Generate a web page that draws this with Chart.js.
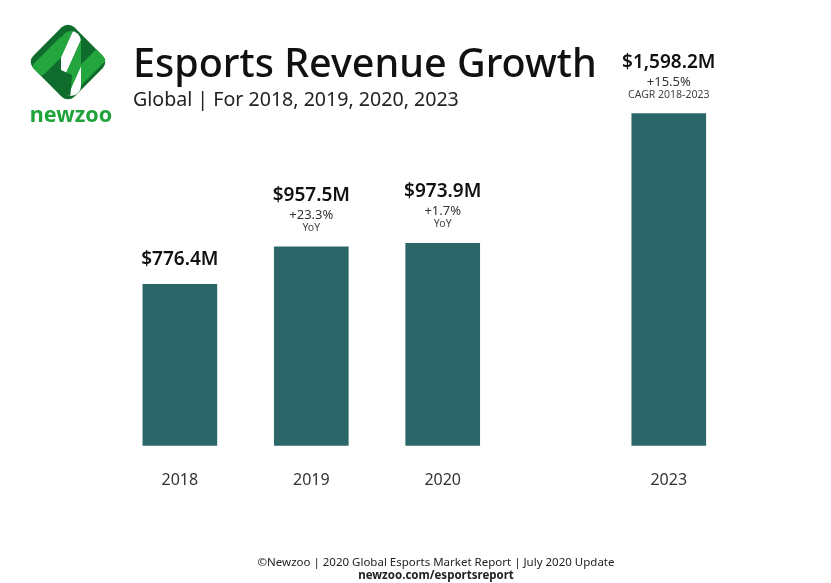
<!DOCTYPE html>
<html>
<head>
<meta charset="utf-8">
<script src="https://cdn.jsdelivr.net/npm/chart.js@4.4.1/dist/chart.umd.min.js"></script>
<style>
  html, body { margin: 0; padding: 0; background: #ffffff; }
  #wrap { width: 831px; height: 583px; position: relative; }
</style>
</head>
<body>
<div id="wrap"><canvas id="c" width="831" height="583"></canvas></div>
<script>
// ---- data ----
const categories = ['2018', '2019', '2020', '2023'];
const revenue = [776.4, 957.5, 973.9, 1598.2];
const valueLabels = ['$776.4M', '$957.5M', '$973.9M', '$1,598.2M'];
const growthLabels = ['', '+23.3%', '+1.7%', '+15.5%'];
const growthBasis = ['', 'YoY', 'YoY', 'CAGR 2018-2023'];

// ---- layout (axis slot for each category; 2023 sits after a compressed gap) ----
const axisSlots = [0, 1, 2, 3.72];
const FONT = '"Noto Sans", "Open Sans", sans-serif';
const BAR = '#2b6768';
const LIGHT = '#23a63d';
const DARK = '#0f6c2d';

function drawLogo(ctx) {
  const cx = 68, cy = 62;
  ctx.save();
  ctx.save();
  ctx.translate(cx, cy);
  ctx.rotate(Math.PI / 4);
  ctx.beginPath();
  ctx.roundRect(-29, -29, 58, 58, 9);
  ctx.restore();
  ctx.fillStyle = DARK;
  ctx.fill();
  ctx.clip();
  // diagonal bright bands
  ctx.strokeStyle = LIGHT;
  ctx.lineCap = 'round';
  ctx.lineWidth = 15;
  ctx.beginPath(); ctx.moveTo(40, 68); ctx.lineTo(64, 44); ctx.stroke();
  ctx.beginPath(); ctx.moveTo(76, 80); ctx.lineTo(102, 54); ctx.stroke();
  // central capsule with diagonal stripes
  ctx.beginPath(); ctx.roundRect(61, 31, 20, 65, 10); ctx.clip();
  const band = (u0, u1, color) => {
    // u = (x - 61) + 0.45 * (y - 31)
    ctx.fillStyle = color;
    ctx.beginPath();
    ctx.moveTo(61 + u0 + 0.45 * 10, 21);
    ctx.lineTo(61 + u1 + 0.45 * 10, 21);
    ctx.lineTo(61 + u1 - 0.45 * 80, 111);
    ctx.lineTo(61 + u0 - 0.45 * 80, 111);
    ctx.closePath();
    ctx.fill();
  };
  band(-60, 12, LIGHT);
  band(12, 24, '#ffffff');
  band(24, 36, LIGHT);
  band(36, 90, '#ffffff');
  ctx.fillStyle = DARK;
  ctx.beginPath();
  ctx.moveTo(59, 69); ctx.lineTo(72, 75); ctx.lineTo(70, 100); ctx.lineTo(59, 100); ctx.closePath();
  ctx.fill();
  ctx.restore();
}

const headerPlugin = {
  id: 'header',
  afterDraw(chart) {
    const ctx = chart.ctx;
    drawLogo(ctx);
    ctx.save();
    ctx.fillStyle = '#1fa33a';
    ctx.font = '700 21.5px ' + FONT;
    ctx.textAlign = 'center';
    ctx.textBaseline = 'alphabetic';
    ctx.fillText('newzoo', 71, 122);

    // title
    ctx.textAlign = 'left';
    ctx.fillStyle = '#111111';
    ctx.font = '500 39.5px ' + FONT;
    ctx.fillText('Esports Revenue Growth', 133, 77);
    ctx.fillStyle = '#222222';
    ctx.font = '400 19.6px ' + FONT;
    ctx.fillText('Global | For 2018, 2019, 2020, 2023', 133, 106);

    // footer
    ctx.textAlign = 'center';
    ctx.fillStyle = '#222222';
    ctx.font = '400 11.5px ' + FONT;
    ctx.fillText('\u00A9Newzoo | 2020 Global Esports Market Report | July 2020 Update', 436, 566);
    ctx.font = '700 11.5px ' + FONT;
    ctx.fillText('newzoo.com/esportsreport', 436, 579);
    ctx.restore();
  }
};

const barLabelPlugin = {
  id: 'barLabels',
  afterDatasetsDraw(chart) {
    const ctx = chart.ctx;
    const meta = chart.getDatasetMeta(0);
    ctx.save();
    ctx.textAlign = 'center';
    ctx.textBaseline = 'alphabetic';
    meta.data.forEach((bar, i) => {
      const x = bar.x, top = bar.y;
      ctx.fillStyle = '#111111';
      ctx.font = '600 19px ' + FONT;
      if (growthLabels[i]) {
        ctx.fillText(valueLabels[i], x, top - 46);
        ctx.fillStyle = '#333333';
        ctx.font = '400 13px ' + FONT;
        ctx.fillText(growthLabels[i], x, top - 28);
        ctx.fillStyle = '#444444';
        ctx.font = '400 10.5px ' + FONT;
        ctx.fillText(growthBasis[i], x, top - 16);
      } else {
        ctx.fillText(valueLabels[i], x, top - 19);
      }
    });
    ctx.restore();
  }
};

new Chart(document.getElementById('c'), {
  type: 'bar',
  data: {
    datasets: [{
      data: revenue.map((v, i) => ({ x: axisSlots[i], y: v })),
      backgroundColor: BAR,
      borderWidth: 0,
      barThickness: 74
    }]
  },
  options: {
    responsive: false,
    animation: false,
    events: [],
    layout: { padding: { left: 101, right: 86, top: 30, bottom: 68 } },
    plugins: { legend: { display: false }, tooltip: { enabled: false } },
    scales: {
      x: {
        type: 'linear',
        offset: false,
        min: -0.6,
        max: 4.3,
        grid: { display: false, drawTicks: false },
        border: { display: false },
        afterBuildTicks: (scale) => { scale.ticks = axisSlots.map(v => ({ value: v })); },
        ticks: {
          autoSkip: false,
          maxRotation: 0,
          padding: 25,
          color: '#333333',
          font: { family: FONT, size: 16 },
          callback: (value, index) => categories[index]
        }
      },
      y: {
        display: false,
        min: 0,
        max: 2000
      }
    }
  },
  plugins: [headerPlugin, barLabelPlugin]
});
</script>
</body>
</html>
